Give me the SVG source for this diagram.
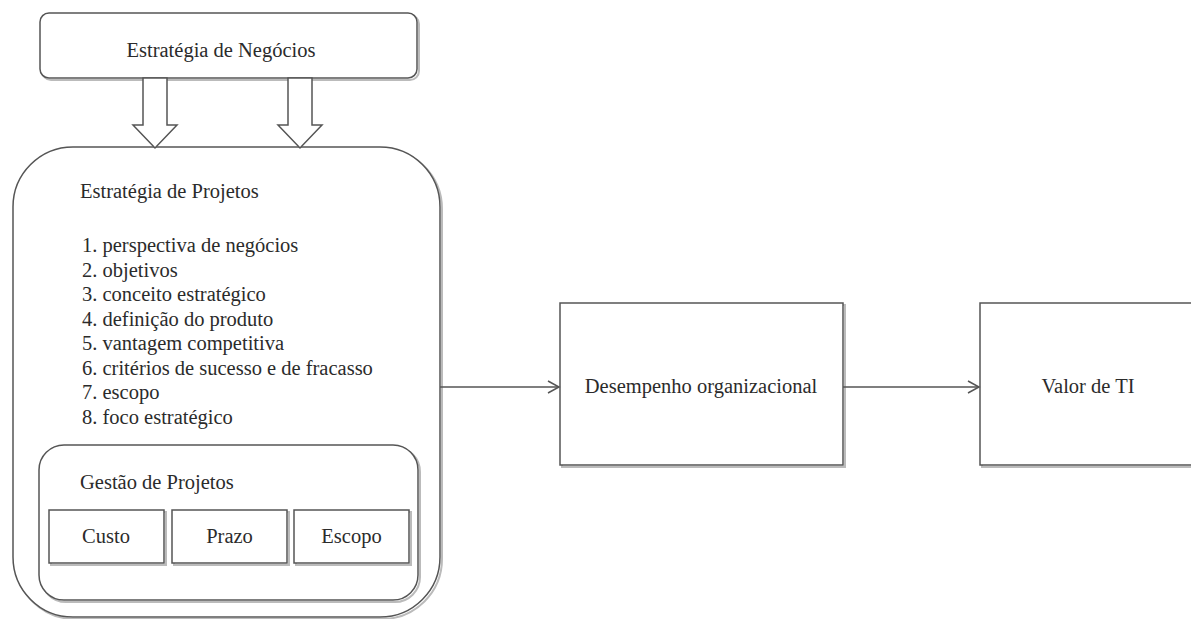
<svg xmlns="http://www.w3.org/2000/svg" width="1191" height="619" viewBox="0 0 1191 619">
<defs>
<style>
.t{font-family:'Liberation Serif','Times New Roman',serif;font-size:20.5px;fill:#2b2b2b}
.c{text-anchor:middle}
.box{fill:#fff;stroke:#555;stroke-width:1.5}
.sh{fill:none;stroke:#bbb;stroke-width:2}
.ln{fill:none;stroke:#555;stroke-width:1.5}
.blk{fill:#fff;stroke:#555;stroke-width:1.5;stroke-linejoin:miter}
</style>
<marker id="arr" markerWidth="14" markerHeight="14" refX="12" refY="7" orient="auto" markerUnits="userSpaceOnUse">
<path d="M1,1 L12,7 L1,13" fill="none" stroke="#555" stroke-width="1.5"/>
</marker>
</defs>
<rect width="1191" height="619" fill="#fff"/>

<g id="estrategia-negocios">
<rect x="42" y="15" width="377" height="65" rx="9" class="sh"/>
<rect x="40" y="13" width="377" height="65" rx="9" class="box"/>
<text x="221" y="57" class="t c">Estratégia de Negócios</text>
</g>

<g id="estrategia-projetos">
<rect x="15" y="149" width="427" height="470" rx="60" class="sh"/>
<rect x="13" y="147" width="427" height="470" rx="60" class="box"/>
<text x="80" y="198" class="t">Estratégia de Projetos</text>
<text x="82" y="252" class="t">1. perspectiva de negócios</text>
<text x="82" y="276.5" class="t">2. objetivos</text>
<text x="82" y="301" class="t">3. conceito estratégico</text>
<text x="82" y="325.5" class="t">4. definição do produto</text>
<text x="82" y="350" class="t">5. vantagem  competitiva</text>
<text x="82" y="374.5" class="t">6. critérios de sucesso e de fracasso</text>
<text x="82" y="399" class="t">7. escopo</text>
<text x="82" y="423.5" class="t">8. foco estratégico</text>
</g>

<g id="gestao-projetos">
<rect x="41" y="447" width="379" height="155" rx="25" class="sh"/>
<rect x="39" y="445" width="379" height="155" rx="25" class="box"/>
<text x="80" y="489" class="t">Gestão de Projetos</text>
</g>

<g id="custo">
<rect x="51" y="512" width="115" height="53" class="sh"/>
<rect x="49" y="510" width="115" height="53" class="box"/>
<text x="106" y="543" class="t c">Custo</text>
</g>
<g id="prazo">
<rect x="174" y="512" width="115" height="53" class="sh"/>
<rect x="172" y="510" width="115" height="53" class="box"/>
<text x="229.5" y="543" class="t c">Prazo</text>
</g>
<g id="escopo">
<rect x="296" y="512" width="115" height="53" class="sh"/>
<rect x="294" y="510" width="115" height="53" class="box"/>
<text x="351.5" y="543" class="t c">Escopo</text>
</g>

<g id="desempenho">
<rect x="562" y="305" width="283" height="162" class="sh"/>
<rect x="560" y="303" width="283" height="162" class="box"/>
<text x="701" y="393" class="t c">Desempenho organizacional</text>
</g>

<g id="valor-ti">
<rect x="982" y="305" width="230" height="162" class="sh"/>
<rect x="980" y="303" width="230" height="162" class="box"/>
<text x="1088" y="393" class="t c">Valor de TI</text>
</g>

<g id="connectors">
<path class="blk" d="M143,78 L167,78 L167,125 L177,125 L155,148 L133,125 L143,125 Z"/>
<path class="blk" d="M288,78 L312,78 L312,125 L322,125 L300,148 L278,125 L288,125 Z"/>
<line x1="440" y1="387" x2="559" y2="387" class="ln" marker-end="url(#arr)"/>
<line x1="843" y1="387" x2="979" y2="387" class="ln" marker-end="url(#arr)"/>
</g>
</svg>
